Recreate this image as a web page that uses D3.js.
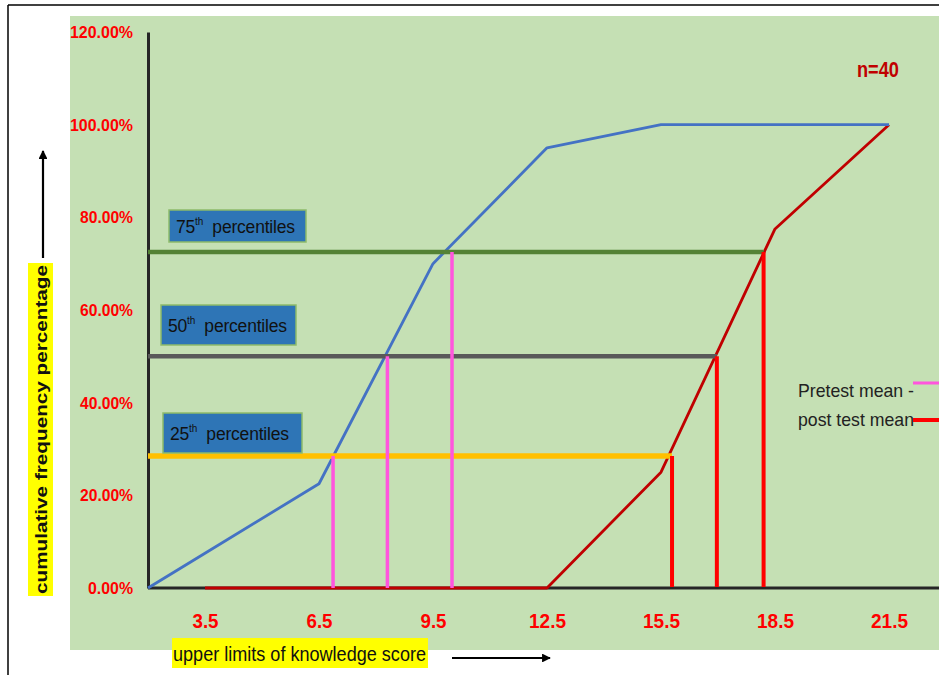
<!DOCTYPE html>
<html><head><meta charset="utf-8">
<script src="https://cdn.jsdelivr.net/npm/d3@7/dist/d3.min.js"></script>
<style>
html,body{margin:0;padding:0;background:#fff;}
svg{display:block;}
</style></head>
<body>
<script>
// ---- data ----
const xTicks = [3.5, 6.5, 9.5, 12.5, 15.5, 18.5, 21.5];
const yTicks = [0, 20, 40, 60, 80, 100, 120];
const pretestX = [2, 3.5, 6.5, 9.5, 12.5, 15.5, 18.5, 21.5];
const pretestY = [0, 7.5, 22.5, 70, 95, 100, 100, 100];
const posttestX = [3.5, 6.5, 9.5, 12.5, 15.5, 18.5, 21.5];
const posttestY = [0, 0, 0, 0, 25, 77.5, 100];
const percentileNames = ["25", "50", "75"];
const percentileValues = [28.5, 50, 72.5];
const pretestDropX = [6.87, 8.3, 10.0];
const posttestDropX = [15.79, 16.97, 18.2];
const percentileColors = ["#FFC000", "#595959", "#548235"];
const legendLabels = ["Pretest mean -", "post test mean"];
const sampleLabel = "n=40";
const xTitle = "upper limits of knowledge score";
const yTitle = "cumulative frequency percentage";

// ---- layout ----
const W = 939, H = 675;
const svg = d3.select("body").append("svg").attr("width", W).attr("height", H);
const x = d3.scaleLinear().domain([2, 21.5]).range([148, 889]);
const y = d3.scaleLinear().domain([0, 120]).range([588, 32]);
const FONT = "'Liberation Sans', Arial, sans-serif";

// border
svg.append("line").attr("x1", 8).attr("y1", 5).attr("x2", W).attr("y2", 5).attr("stroke", "#000").attr("stroke-width", 1.5);
svg.append("line").attr("x1", 8).attr("y1", 5).attr("x2", 8).attr("y2", H).attr("stroke", "#000").attr("stroke-width", 1.5);

// green plot background
svg.append("rect").attr("x", 70).attr("y", 16).attr("width", W - 70).attr("height", 634).attr("fill", "#C5E0B4");

// y axis
const yAxis = svg.append("g").attr("transform", `translate(${x(2)},0)`)
  .call(d3.axisLeft(y).tickValues(yTicks).tickFormat(d => d.toFixed(2) + "%").tickSize(0).tickPadding(15));
yAxis.select(".domain").attr("stroke", "#262626").attr("stroke-width", 3);
yAxis.selectAll(".tick text").attr("fill", "#FF0000").attr("font-family", FONT).attr("font-weight", "bold").attr("font-size", 17)
  .attr("lengthAdjust", "spacingAndGlyphs")
  .attr("textLength", d => d >= 100 ? 63 : (d === 0 ? 45 : 53));

// x axis
const xAxis = svg.append("g").attr("transform", `translate(0,${y(0)})`)
  .call(d3.axisBottom(x).tickValues(xTicks).tickFormat(d3.format(".1f")).tickSize(0).tickPadding(25));
xAxis.select(".domain").remove();
xAxis.selectAll(".tick text").attr("fill", "#FF0000").attr("font-family", FONT).attr("font-weight", "bold").attr("font-size", 21)
  .attr("lengthAdjust", "spacingAndGlyphs")
  .attr("textLength", d => d >= 10 ? 37 : 26);
svg.append("line").attr("x1", x(2)).attr("x2", W).attr("y1", y(0)).attr("y2", y(0)).attr("stroke", "#262626").attr("stroke-width", 3);

// series lines
const line = d3.line().x(d => x(d[0])).y(d => y(d[1]));
const postPts = posttestX.map((v, i) => [v, posttestY[i]]);
const prePts = pretestX.map((v, i) => [v, pretestY[i]]);
svg.append("path").attr("d", line(postPts)).attr("fill", "none").attr("stroke", "#C00000").attr("stroke-width", 2.8).attr("stroke-linejoin", "round");
svg.append("path").attr("d", line(prePts)).attr("fill", "none").attr("stroke", "#4472C4").attr("stroke-width", 2.8).attr("stroke-linejoin", "round");

// percentile horizontal lines
percentileValues.forEach((v, i) => {
  svg.append("line").attr("x1", x(2)).attr("x2", x(posttestDropX[i]))
    .attr("y1", y(v)).attr("y2", y(v))
    .attr("stroke", percentileColors[i]).attr("stroke-width", i === 0 ? 5.5 : 4.5);
});

// drop lines
percentileValues.forEach((v, i) => {
  svg.append("line").attr("x1", x(pretestDropX[i])).attr("x2", x(pretestDropX[i]))
    .attr("y1", y(0)).attr("y2", y(v)).attr("stroke", "#FF55DD").attr("stroke-width", 3.5);
  svg.append("line").attr("x1", x(posttestDropX[i])).attr("x2", x(posttestDropX[i]))
    .attr("y1", y(0) - 1).attr("y2", y(v)).attr("stroke", "#FF0000").attr("stroke-width", 4);
});

// percentile label boxes
const boxes = [
  {x: 163, y: 413, w: 139, h: 40},
  {x: 161, y: 305, w: 135, h: 40},
  {x: 169, y: 210, w: 137, h: 32}
];
percentileNames.forEach((n, i) => {
  const b = boxes[i];
  svg.append("rect").attr("x", b.x).attr("y", b.y).attr("width", b.w).attr("height", b.h)
    .attr("fill", "#2E75B6").attr("stroke", "#8DBA6A").attr("stroke-width", 1.5);
  const t = svg.append("text").attr("x", b.x + 7).attr("y", b.y + b.h / 2 + 7)
    .attr("font-family", FONT).attr("font-size", 17.5).attr("fill", "#111").attr("letter-spacing", -0.2);
  t.append("tspan").text(n);
  t.append("tspan").attr("font-size", 10).attr("dy", -8).text("th");
  t.append("tspan").attr("dy", 8).text("\u00A0 percentiles");
});

// legend
const legendColors = ["#FF55DD", "#FF0000"];
const legendY = [397, 426];
legendLabels.forEach((l, i) => {
  svg.append("text").attr("x", 798).attr("y", legendY[i]).attr("font-family", FONT)
    .attr("font-size", 19).attr("fill", "#222").attr("textLength", 116).attr("lengthAdjust", "spacingAndGlyphs").text(l);
  svg.append("line").attr("x1", 913).attr("x2", W).attr("y1", legendY[i] - 14 + i * 8).attr("y2", legendY[i] - 14 + i * 8)
    .attr("stroke", legendColors[i]).attr("stroke-width", i === 0 ? 3 : 4);
});

// n=40
svg.append("text").attr("x", 857).attr("y", 77).attr("font-family", FONT).attr("font-weight", "bold")
  .attr("font-size", 22).attr("fill", "#C00000").attr("textLength", 42).attr("lengthAdjust", "spacingAndGlyphs").text(sampleLabel);

// x title with highlight
svg.append("rect").attr("x", 172).attr("y", 638).attr("width", 256).attr("height", 30).attr("fill", "#FFFF00");
svg.append("text").attr("x", 173).attr("y", 661).attr("font-family", FONT).attr("font-size", 21)
  .attr("fill", "#111").attr("textLength", 253).attr("lengthAdjust", "spacingAndGlyphs").text(xTitle);

// y title with highlight
svg.append("rect").attr("x", 28).attr("y", 263).attr("width", 25).attr("height", 333).attr("fill", "#FFFF00");
svg.append("text").attr("transform", "translate(47,594) rotate(-90)").attr("font-family", FONT)
  .attr("font-weight", "bold").attr("font-size", 16).attr("fill", "#111")
  .attr("textLength", 329).attr("lengthAdjust", "spacingAndGlyphs").text(yTitle);

// arrows
const defs = svg.append("defs");
defs.append("marker").attr("id", "ah").attr("viewBox", "0 0 10 10").attr("refX", 9).attr("refY", 5)
  .attr("markerWidth", 4).attr("markerHeight", 4).attr("orient", "auto")
  .append("path").attr("d", "M0,0 L10,5 L0,10 Z").attr("fill", "#000");
svg.append("line").attr("x1", 43).attr("x2", 43).attr("y1", 258).attr("y2", 151)
  .attr("stroke", "#000").attr("stroke-width", 2.2).attr("marker-end", "url(#ah)");
svg.append("line").attr("x1", 452).attr("x2", 550).attr("y1", 658).attr("y2", 658)
  .attr("stroke", "#000").attr("stroke-width", 2.2).attr("marker-end", "url(#ah)");
</script>
</body></html>
